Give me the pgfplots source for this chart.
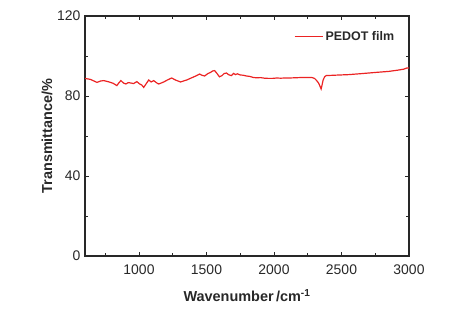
\documentclass[border=0pt]{standalone}
\usepackage{pgfplots}
\pgfplotsset{compat=1.18}
\usepackage{fontspec}
\setmainfont{Liberation Sans}
\definecolor{curve}{RGB}{235,35,35}
\definecolor{axc}{RGB}{40,40,40}
\begin{document}
\begin{tikzpicture}
\path[use as bounding box] (0,0) rectangle (449bp,316bp);
\begin{axis}[
  at={(85bp,60bp)}, anchor=south west,
  scale only axis, width=324bp, height=240bp,
  xmin=600, xmax=3000, ymin=0, ymax=120,
  xtick={1000,1500,2000,2500,3000},
  ytick={0,40,80,120},
  minor xtick={750,1250,1750,2250,2750},
  minor ytick={20,60,100},
  tick align=inside,
  major tick length=4bp, minor tick length=3bp,
  axis line style={axc, line width=1.1pt},
  every tick/.style={axc, line width=0.9pt},
  /pgf/number format/assume math mode=true,
  /pgf/number format/1000 sep={},
  tick label style={font=\fontsize{14}{16}\selectfont, text=axc},
  xticklabel style={yshift=-5bp},
  yticklabel style={xshift=-1bp},
  xlabel={\textbf{Wavenumber\,/cm\textsuperscript{-1}}},
  ylabel={\textbf{Transmittance/\%}},
  label style={font=\fontsize{14.5}{17}\selectfont, text=axc},
  xlabel style={yshift=-8bp},
  ylabel style={yshift=-2bp},
  legend style={draw=none, fill=none, at={(0.97,0.955)}, anchor=north east,
    font=\fontsize{12.5}{14}\selectfont\bfseries, text=axc},
  legend image code/.code={\draw[#1] (0cm,0cm) -- (1.0cm,0cm);},
  legend cell align=left,
]
\addplot[curve, line width=1.2pt] coordinates {
(600,88.8) (640,88.3) (689,86.8) (715,87.5) (740,87.7) (780,87.0) (810,86.3) (836,85.2)
(850,86.5) (866,87.7) (885,86.5) (903,86.0) (920,86.7) (940,86.5) (960,86.2) (984,87.2)
(1005,86.0) (1020,85.5) (1035,84.3) (1050,85.8) (1072,88.0) (1090,87.0) (1109,87.7)
(1130,86.6) (1146,86.0) (1165,86.5) (1183,87.0) (1210,88.0) (1242,89.0) (1270,88.0)
(1308,87.0) (1330,87.5) (1353,88.0) (1380,88.8) (1404,89.5) (1430,90.3) (1449,91.0)
(1465,90.4) (1486,90.0) (1510,91.2) (1530,91.8) (1545,92.5) (1560,92.7) (1575,91.5)
(1596,89.6) (1615,90.2) (1630,91.2) (1648,91.5) (1665,90.6) (1685,90.2) (1700,91.3)
(1715,90.7) (1729,91.1) (1750,90.5) (1770,90.4) (1796,90.0) (1820,89.8) (1845,89.3)
(1869,89.1) (1900,89.2) (1930,88.9) (1960,88.8) (1987,88.8) (2020,89.0) (2050,88.9)
(2080,89.0) (2113,89.0) (2150,89.1) (2187,89.2) (2230,89.3) (2283,89.2) (2300,88.8)
(2312,88.0) (2330,86.5) (2342,84.7) (2349,83.5) (2356,85.5) (2364,88.0) (2375,89.6)
(2386,90.2) (2450,90.4) (2556,90.7) (2650,91.2) (2755,91.8) (2850,92.3) (2925,93.0)
(2960,93.4) (2984,94.0) (3000,94.0)
};
\addlegendentry{PEDOT film}
\end{axis}
\end{tikzpicture}
\end{document}
